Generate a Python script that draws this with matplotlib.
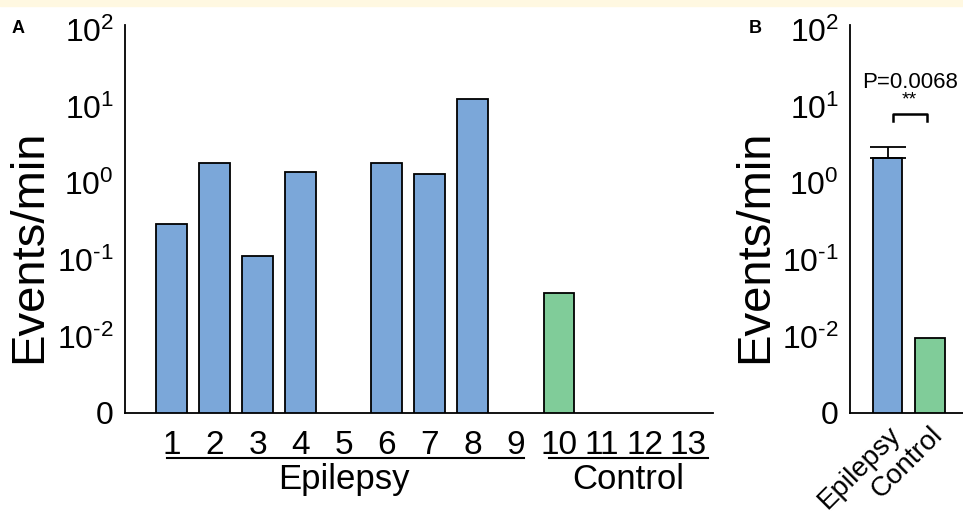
import numpy as np
import matplotlib.pyplot as plt
from matplotlib.patches import Rectangle

plt.rcParams['font.family'] = ['Liberation Sans', 'DejaVu Sans']
plt.rcParams['mathtext.fontset'] = 'custom'
plt.rcParams['mathtext.rm'] = 'Liberation Sans'
plt.rcParams['mathtext.it'] = 'Liberation Sans'

# Panel A: events/min per subject (0 = no events)
sujetos = np.arange(1, 14)
eventos = np.array([0.29, 1.86, 0.113, 1.39, 0, 1.82, 1.31, 12.7, 0, 0.037, 0, 0, 0])
es_control = sujetos >= 10

# Panel B: group mean with error
grupos = ['Epilepsy', 'Control']
media = [2.11, 0.0094]
error_sup = [0.9, 0]
p_texto = 'P=0.0068'

y_ticks = [1e-3, 1e-2, 1e-1, 1e0, 1e1, 1e2]
y_labels = ['0', r'$10^{\text{-}2}$', r'$10^{\text{-}1}$', '$10^{0}$', '$10^{1}$', '$10^{2}$']

azul = '#7ba7d9'
verde = '#80cc99'

fig = plt.figure(figsize=(9.63, 5.12), dpi=100)
fig.patches.append(Rectangle((0, 0.988), 1, 0.012, transform=fig.transFigure,
                             color='#fff8e1', zorder=0))

ax = fig.add_axes([0.1298, 0.1934, 0.6106, 0.7578])
axb = fig.add_axes([0.8827, 0.1934, 0.14, 0.7578])

for a in (ax, axb):
    a.set_yscale('log')
    a.set_ylim(1e-3, 10 ** 2.065)
    a.set_yticks(y_ticks)
    a.set_yticklabels(y_labels)
    a.minorticks_off()
    a.tick_params(length=0, labelsize=23)
    a.tick_params(axis='y', pad=8)
    a.tick_params(axis='x', pad=12, labelsize=24)
    a.spines['top'].set_visible(False)
    a.spines['right'].set_visible(False)
    a.spines['left'].set_linewidth(1.3)
    a.spines['bottom'].set_linewidth(1.3)
    a.set_ylabel('Events/min', fontsize=34, labelpad=4, y=0.43)

# Panel A
colores = [verde if c else azul for c in es_control]
mask = eventos > 0
ax.bar(sujetos[mask], eventos[mask], width=0.72,
       color=np.array(colores)[mask], edgecolor='black', linewidth=1.3)
ax.set_xlim(-0.09, 13.58)
ax.set_xticks(sujetos)
ax.set_xticklabels([str(s) for s in sujetos])

trans = ax.get_xaxis_transform()
ax.plot([0.88, 9.19], [-0.116, -0.116], color='black', lw=1.5, transform=trans, clip_on=False)
ax.plot([9.77, 13.47], [-0.116, -0.116], color='black', lw=1.5, transform=trans, clip_on=False)
ax.text(5.0, -0.13, 'Epilepsy', transform=trans, ha='center', va='top', fontsize=25)
ax.text(11.62, -0.13, 'Control', transform=trans, ha='center', va='top', fontsize=25)
fig.text(0.012, 0.935, 'A', fontsize=13, fontweight='bold')

# Panel B
xb = np.array([1, 2])
axb.bar(xb, media, width=0.7, color=[azul, verde], edgecolor='black', linewidth=1.3)
axb.errorbar(xb[:1], media[:1], yerr=[[0], error_sup[:1]], fmt='none',
             ecolor='black', elinewidth=1.3, capsize=13, capthick=1.3)
axb.set_xlim(0.11, 3.3)
axb.set_xticks(xb)
axb.set_xticklabels(grupos, rotation=45, ha='right', rotation_mode='anchor')
axb.tick_params(axis='x', labelsize=20, pad=6)

yb = 10 ** 0.9
ya = 10 ** 0.81
axb.plot([1.12, 1.12, 1.92, 1.92], [ya, yb, yb, ya], color='black', lw=1.8)
axb.text(1.5, 10 ** 1.08, '**', ha='center', va='center', fontsize=14)
axb.text(1.53, 10 ** 1.31, p_texto, ha='center', va='center', fontsize=16)
fig.text(0.778, 0.935, 'B', fontsize=13, fontweight='bold')

fig.savefig('out.png', dpi=100)
